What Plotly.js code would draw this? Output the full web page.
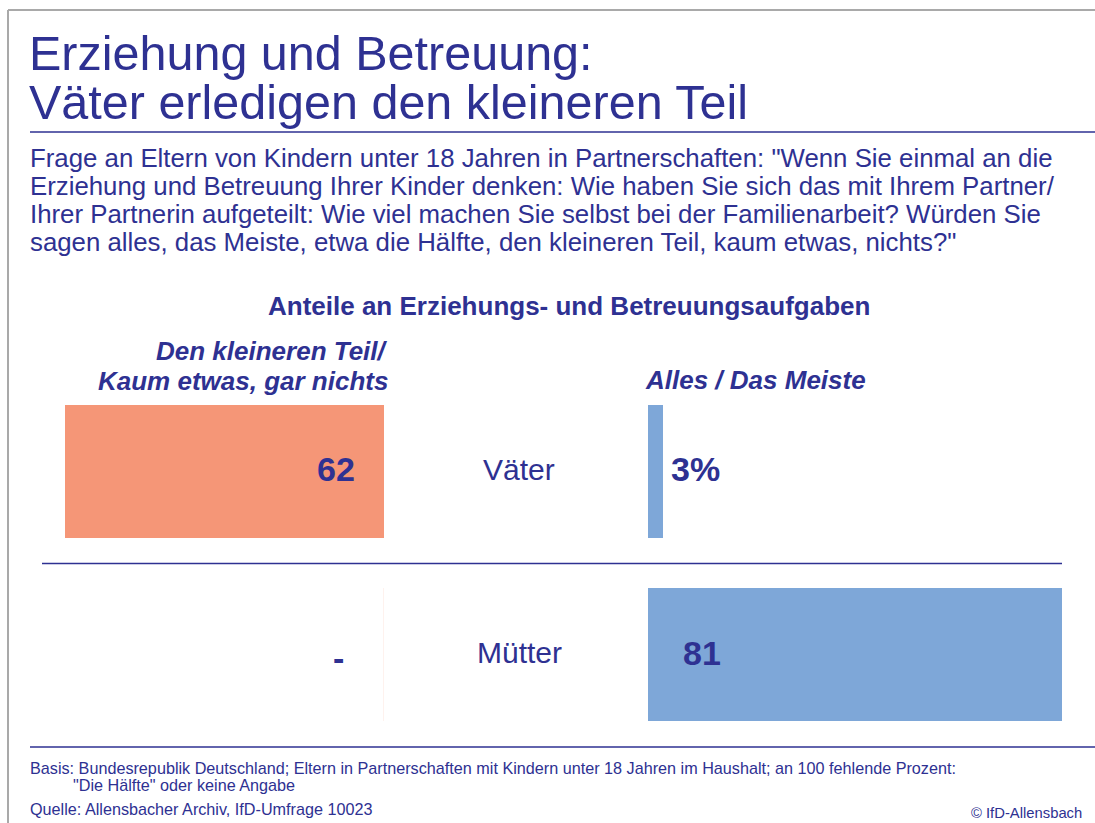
<!DOCTYPE html>
<html>
<head>
<meta charset="utf-8">
<script src="https://cdn.plot.ly/plotly-3.0.1.min.js"></script>
<style>html,body{margin:0;padding:0;background:#fff;}#chart{width:1095px;height:823px;}</style>
</head>
<body>
<div id="chart"></div>
<script>
// ---- data ----
const categories = ["Väter", "Mütter"];
const smallShare = [62, 0];          // Den kleineren Teil / Kaum etwas, gar nichts
const smallLabels = ["62", "-"];
const largeShare = [3, 81];          // Alles / Das Meiste
const largeLabels = ["3%", "81"];

const titleLines = ["Erziehung und Betreuung:", "Väter erledigen den kleineren Teil"];
const questionLines = [
  'Frage an Eltern von Kindern unter 18 Jahren in Partnerschaften: "Wenn Sie einmal an die',
  'Erziehung und Betreuung Ihrer Kinder denken: Wie haben Sie sich das mit Ihrem Partner/',
  'Ihrer Partnerin aufgeteilt: Wie viel machen Sie selbst bei der Familienarbeit? Würden Sie',
  'sagen alles, das Meiste, etwa die Hälfte, den kleineren Teil, kaum etwas, nichts?"'
];
const chartHeading = "Anteile an Erziehungs- und Betreuungsaufgaben";
const leftHeadingLines = ["Den kleineren Teil/", "Kaum etwas, gar nichts"];
const rightHeading = "Alles / Das Meiste";
const footBasis = "Basis: Bundesrepublik Deutschland; Eltern in Partnerschaften mit Kindern unter 18 Jahren im Haushalt; an 100 fehlende Prozent:";
const footBasis2 = '"Die Hälfte" oder keine Angabe';
const footSource = "Quelle: Allensbacher Archiv, IfD-Umfrage 10023";
const footCopy = "© IfD-Allensbach";

// ---- style ----
const W = 1095, H = 823;
const navy = "#2e3192";
const salmon = "#f59677";
const blue = "#7ea7d8";
const FONT = "Liberation Sans, Arial, sans-serif";
const px = x => x / W;
const py = y => 1 - y / H;

const traces = [
  {type: "bar", orientation: "h", y: categories, x: smallShare, xaxis: "x", yaxis: "y",
   marker: {color: salmon}, width: 0.727, hoverinfo: "skip"},
  {type: "bar", orientation: "h", y: categories, x: largeShare, xaxis: "x2", yaxis: "y",
   marker: {color: blue}, width: 0.727, hoverinfo: "skip"}
];

const ann = [];
function txt(text, x, y, size, opts) {
  ann.push(Object.assign({text: text, xref: "paper", yref: "paper", x: px(x), y: py(y),
    xanchor: "left", yanchor: "middle", showarrow: false,
    font: {family: FONT, size: size, color: navy}}, opts || {}));
}
txt(titleLines[0], 27, 53, 48.5);
txt(titleLines[1], 27, 102, 48.5);
questionLines.forEach((l, i) => txt(l, 28, 158 + i * 28, 25.8));
txt(chartHeading, 569, 306, 26, {xanchor: "center", font: {family: FONT, size: 26, color: navy, weight: 700}});
leftHeadingLines.forEach((l, i) => txt(l, 390, 351 + i * 30, 26, {xanchor: "right",
  font: {family: FONT, size: 26, color: navy, weight: 700, style: "italic"}}));
txt(rightHeading, 868, 380, 26, {xanchor: "right",
  font: {family: FONT, size: 26, color: navy, weight: 700, style: "italic"}});
txt(footBasis, 28, 768, 16.2);
txt(footBasis2, 71, 785, 16.2);
txt(footSource, 28, 809, 16.2);
txt(footCopy, 1084, 813, 14.8, {xanchor: "right"});

// category labels and values
categories.forEach((c, i) => {
  ann.push({text: c, xref: "paper", yref: "y", x: px(519), y: c, xanchor: "center", yanchor: "middle",
    yshift: 2, showarrow: false, font: {family: FONT, size: 30, color: navy}});
  ann.push({text: "<b>" + smallLabels[i] + "</b>", xref: "x", yref: "y", x: 0, y: c,
    xanchor: "right", yanchor: "middle", xshift: smallShare[i] ? -27 : -38, yshift: smallShare[i] ? 2 : -3,
    showarrow: false, font: {family: FONT, size: 34, color: navy}});
  const inside = largeShare[i] > 10;
  ann.push({text: "<b>" + largeLabels[i] + "</b>", xref: "x2", yref: "y", x: inside ? 0 : largeShare[i], y: c,
    xanchor: "left", yanchor: "middle", xshift: inside ? 33 : 6, yshift: 2, showarrow: false,
    font: {family: FONT, size: 34, color: navy}});
});

const shapes = [
  {type: "line", xref: "paper", yref: "paper", x0: px(8), x1: px(1095), y0: py(10), y1: py(10), line: {color: "#a9a9a9", width: 2}},
  {type: "line", xref: "paper", yref: "paper", x0: px(8), x1: px(8), y0: py(10), y1: py(823), line: {color: "#a9a9a9", width: 2}},
  {type: "line", xref: "paper", yref: "paper", x0: px(30), x1: px(1095), y0: py(132), y1: py(132), line: {color: navy, width: 1.5}},
  {type: "line", xref: "paper", yref: "paper", x0: px(42), x1: px(1062), y0: py(563.5), y1: py(563.5), line: {color: navy, width: 1.5}},
  {type: "line", xref: "paper", yref: "paper", x0: px(30), x1: px(1095), y0: py(747), y1: py(747), line: {color: navy, width: 1.5}}
];
// faint edge for zero-length bars
categories.forEach((c, i) => {
  if (!smallShare[i]) shapes.push({type: "line", xref: "x", yref: "y", x0: 0, x1: 0, y0: i - 0.3635, y1: i + 0.3635,
    line: {color: "#fde5dc", width: 1}});
});

const axOff = {showgrid: false, zeroline: false, showticklabels: false, ticks: "", showline: false, fixedrange: true};
const layout = {
  width: W, height: H, margin: {l: 0, r: 0, t: 0, b: 0},
  paper_bgcolor: "#fff", plot_bgcolor: "rgba(0,0,0,0)", showlegend: false, bargap: 0,
  xaxis: Object.assign({}, axOff, {domain: [px(65), px(384)], range: [62, 0], anchor: "y"}),
  xaxis2: Object.assign({}, axOff, {domain: [px(648), px(1062)], range: [0, 81], anchor: "y"}),
  yaxis: Object.assign({}, axOff, {domain: [py(746), py(380)], type: "category", categoryorder: "array",
    categoryarray: categories, range: [1.5, -0.5]}),
  annotations: ann, shapes: shapes
};
Plotly.newPlot("chart", traces, layout, {displayModeBar: false, staticPlot: true});
</script>
</body>
</html>
